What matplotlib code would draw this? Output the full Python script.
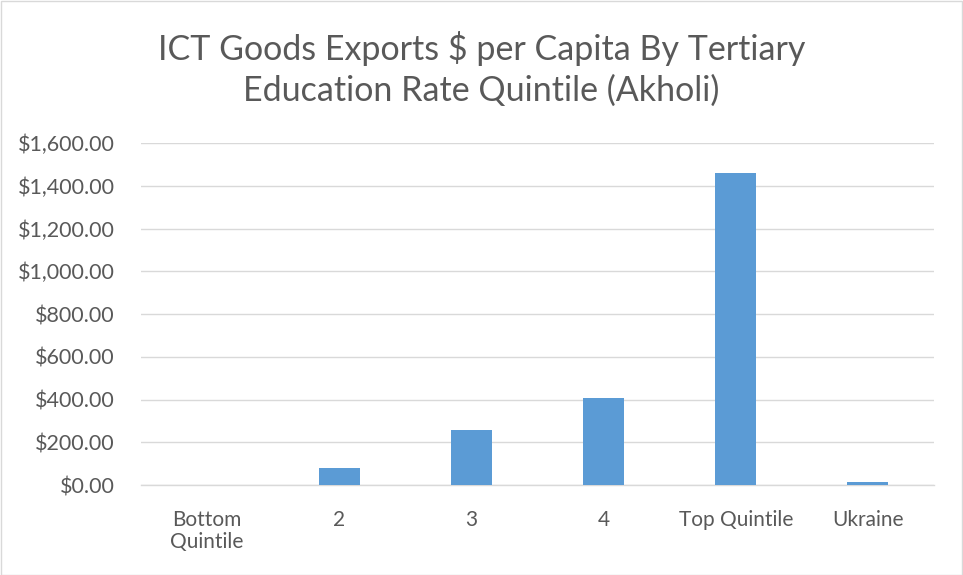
import matplotlib
matplotlib.use("Agg")
import matplotlib.pyplot as plt
from matplotlib.ticker import FuncFormatter, MultipleLocator
from matplotlib.patches import Rectangle

categories = ["Bottom\nQuintile", "2", "3", "4", "Top Quintile", "Ukraine"]
exports_per_capita = [1.0, 80.0, 255.0, 405.0, 1460.0, 14.0]
title = "ICT Goods Exports $ per Capita By Tertiary\nEducation Rate Quintile (Akholi)"

plt.rcParams["font.family"] = ["Lato", "DejaVu Sans"]

W, H = 963, 575
fig = plt.figure(figsize=(W / 100, H / 100), dpi=100)
ax = fig.add_axes([141 / W, 1 - 485 / H, (934 - 141) / W, (485 - 143) / H])

x = list(range(len(categories)))
ax.bar(x, exports_per_capita, width=0.31, color="#5b9bd5", zorder=3)

ax.set_xlim(-0.5, len(categories) - 0.5)
ax.set_ylim(0, 1600)
ax.yaxis.set_major_locator(MultipleLocator(200))
ax.yaxis.set_major_formatter(FuncFormatter(lambda v, p: f"${v:,.2f}"))
ax.grid(axis="y", color="#d9d9d9", linewidth=1.0, zorder=0)

for s in ["top", "right", "left"]:
    ax.spines[s].set_visible(False)
ax.spines["bottom"].set_color("#d9d9d9")
ax.spines["bottom"].set_linewidth(1.0)

ax.set_xticks(x)
ax.set_xticklabels(categories, fontsize=15, color="#595959", linespacing=1.15)
ax.tick_params(axis="x", length=0, pad=18)
ax.tick_params(axis="y", length=0, labelsize=15.5, labelcolor="#595959", pad=19)

fig.text(0.5, 1 - 69 / H, title, ha="center", va="center", fontsize=24.5,
         color="#595959", linespacing=1.35)

fig.patches.append(Rectangle((0.5 / W, 0.5 / H), 1 - 1.5 / W, 1 - 1.5 / H,
                             transform=fig.transFigure, fill=False,
                             edgecolor="#d9d9d9", linewidth=1.0))

fig.savefig("out.png", dpi=100)
